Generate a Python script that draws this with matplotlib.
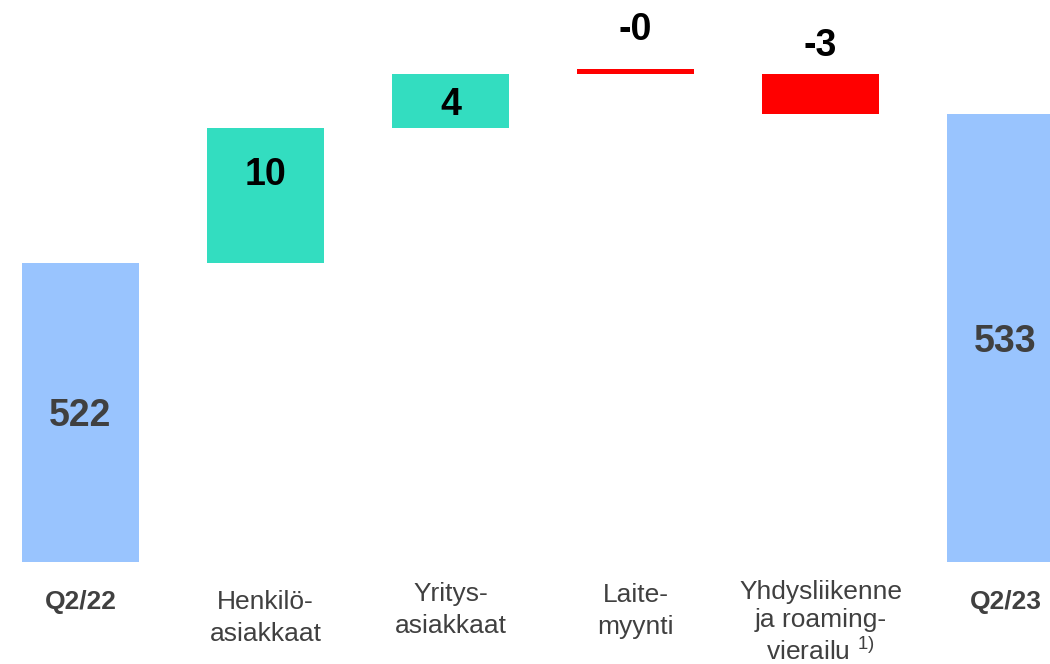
import matplotlib.pyplot as plt

plt.rcParams['font.family'] = ['Liberation Sans', 'DejaVu Sans']
plt.rcParams['mathtext.fontset'] = 'custom'
plt.rcParams['mathtext.rm'] = 'Liberation Sans'

# data
categories = ["Q2/22", "Henkilö-\nasiakkaat", "Yritys-\nasiakkaat", "Laite-\nmyynti",
              "Yhdysliikenne\nja roaming-\nvierailu $^{\\mathregular{1)}}$", "Q2/23"]
start_value = 522
deltas = [10, 4, -0.4, -3]
delta_labels = ["10", "4", "-0", "-3"]
end_value = 533

# styles
blue = "#99C4FE"
teal = "#33DDC0"
red = "#FF0000"
grey = "#404040"
neg_label_offset = [None, None, 15, 7]           # points above the bar
label_top_px = [590, 590, 582, 583, 580, 590]    # top of category label, px from figure top
base = 499.85

fig = plt.figure(figsize=(10.5, 6.64), dpi=100)
ax = fig.add_axes([0, 102 / 664, 1, 562 / 664])

width = 0.63

# start total
ax.bar(0, start_value - base, bottom=base, width=width, color=blue)
ax.text(0, (start_value + base) / 2, str(start_value), ha="center",
        va="center_baseline", fontsize=27, fontweight="bold", color=grey)

cum = start_value
for i, (d, lab) in enumerate(zip(deltas, delta_labels), start=1):
    if d >= 0:
        ax.bar(i, d, bottom=cum, width=width, color=teal)
        top = cum + d
        y = max(cum + d / 2, top - 3.2)
        ax.text(i, y, lab, ha="center", va="center_baseline", fontsize=27,
                fontweight="bold", color="black")
        cum = top
    else:
        if abs(d) < 1:
            # tiny change drawn as a thin line just above the running level
            ax.bar(i, abs(d), bottom=cum, width=width, color=red)
            top = cum + abs(d)
        else:
            ax.bar(i, d, bottom=cum, width=width, color=red)
            top = cum
            cum = cum + d
        ax.annotate(lab, (i, top), xytext=(0, neg_label_offset[i - 1]),
                    textcoords="offset points", ha="center", va="bottom",
                    fontsize=27, fontweight="bold", color="black")

# end total
n = len(categories) - 1
ax.bar(n, end_value - base, bottom=base, width=width, color=blue)
ax.text(n, (end_value + base) / 2, str(end_value), ha="center",
        va="center_baseline", fontsize=27, fontweight="bold", color=grey)

ax.set_xlim(-0.435, 5.24)
ax.set_ylim(base, base + 562 / 13.5)

# category labels under the bars
trans = ax.get_xaxis_transform()
for i, cat in enumerate(categories):
    bold = i in (0, n)
    ax.text(i, (562 - label_top_px[i]) / 562, cat, transform=trans,
            ha="center", va="top", ma="center", fontsize=19,
            fontweight="bold" if bold else "normal", color=grey,
            linespacing=1.22 if i == 4 else 1.42)

ax.set_xticks([])
ax.set_yticks([])
for s in ax.spines.values():
    s.set_visible(False)

plt.savefig("out.png", dpi=100)
plt.close()
